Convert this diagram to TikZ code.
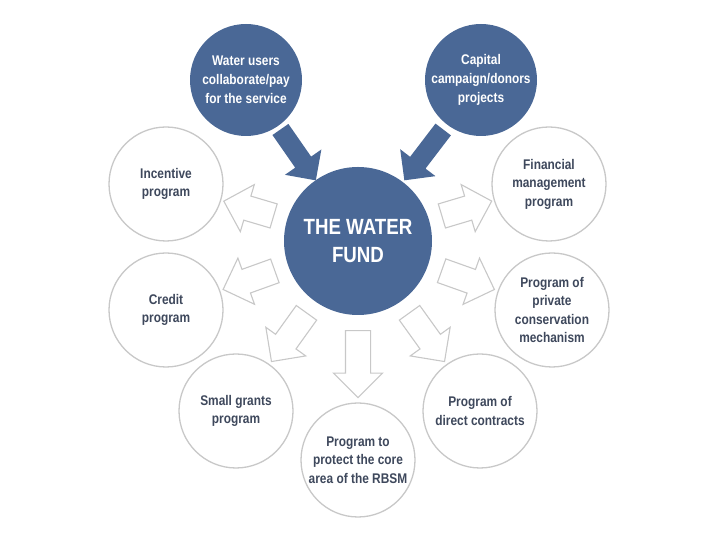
\documentclass[tikz,border=0pt]{standalone}
\usepackage{fontspec}
\setmainfont{Liberation Sans}[FakeStretch=0.85]
\usetikzlibrary{shapes.arrows}
\definecolor{fundblue}{RGB}{74,104,150}
\definecolor{ringgray}{RGB}{200,200,200}
\definecolor{labelgray}{RGB}{62,72,92}
\tikzstyle{hub} = [circle, fill=fundblue, text=white, minimum size=148pt, inner sep=0pt, align=center, font=\fontsize{22}{28}\selectfont\bfseries]
\tikzstyle{source} = [circle, fill=fundblue, text=white, minimum size=112pt, inner sep=0pt, align=center, font=\fontsize{14}{19}\selectfont\bfseries]
\tikzstyle{program} = [circle, draw=ringgray, line width=1.3pt, fill=white, text=labelgray, minimum size=114pt, inner sep=0pt, align=center, font=\fontsize{14}{18.5}\selectfont\bfseries]
\tikzstyle{inflow} = [single arrow, fill=fundblue, inner xsep=0pt, inner ysep=9.5pt, single arrow head extend=12.5pt, sloped, allow upside down, pos=0.46]
\tikzstyle{outflow} = [single arrow, draw=ringgray, line width=1.1pt, fill=white, inner xsep=0pt, inner ysep=12pt, single arrow head extend=12pt, sloped, allow upside down, pos=0.49]

\begin{document}
\begin{tikzpicture}[x=1pt, y=1pt]
\useasboundingbox (0,0) rectangle (720,540);

\node [hub] (fund) at (358,299) {THE WATER\\FUND};

\node [source, above of=fund, node distance=161pt, xshift=-112pt] (users) {Water users\\collaborate/pay\\for the service};
\node [source, above of=fund, node distance=161pt, xshift=123pt] (capital) {Capital\\campaign/donors\\projects};

\node [program, left of=fund, node distance=192pt, yshift=57pt] (incentive) {Incentive\\program};
\node [program, left of=fund, node distance=192pt, yshift=-69pt] (credit) {Credit\\program};
\node [program, below of=fund, node distance=170pt, xshift=-122pt] (grants) {Small grants\\program};
\node [program, below of=fund, node distance=219pt] (core) {Program to\\protect the core\\area of the RBSM};
\node [program, below of=fund, node distance=170pt, xshift=122pt] (contracts) {Program of\\direct contracts};
\node [program, right of=fund, node distance=194pt, yshift=-69pt] (private) {Program of\\private\\conservation\\mechanism};
\node [program, right of=fund, node distance=191pt, yshift=57pt] (financial) {Financial\\management\\program};

% money coming in
\path (users) -- node [inflow, minimum height=62pt] {} (fund);
\path (capital) -- node [inflow, minimum height=64pt] {} (fund);

% programs fed by the fund
\path (fund) -- node [outflow, minimum height=52pt] {} (incentive);
\path (fund) -- node [outflow, minimum height=55pt] {} (credit);
\path (fund) -- node [outflow, minimum height=60pt] {} (grants);
\path (fund) -- node [outflow, minimum height=67pt] {} (core);
\path (fund) -- node [outflow, minimum height=60pt] {} (contracts);
\path (fund) -- node [outflow, minimum height=56pt] {} (private);
\path (fund) -- node [outflow, minimum height=52pt] {} (financial);

\end{tikzpicture}
\end{document}
